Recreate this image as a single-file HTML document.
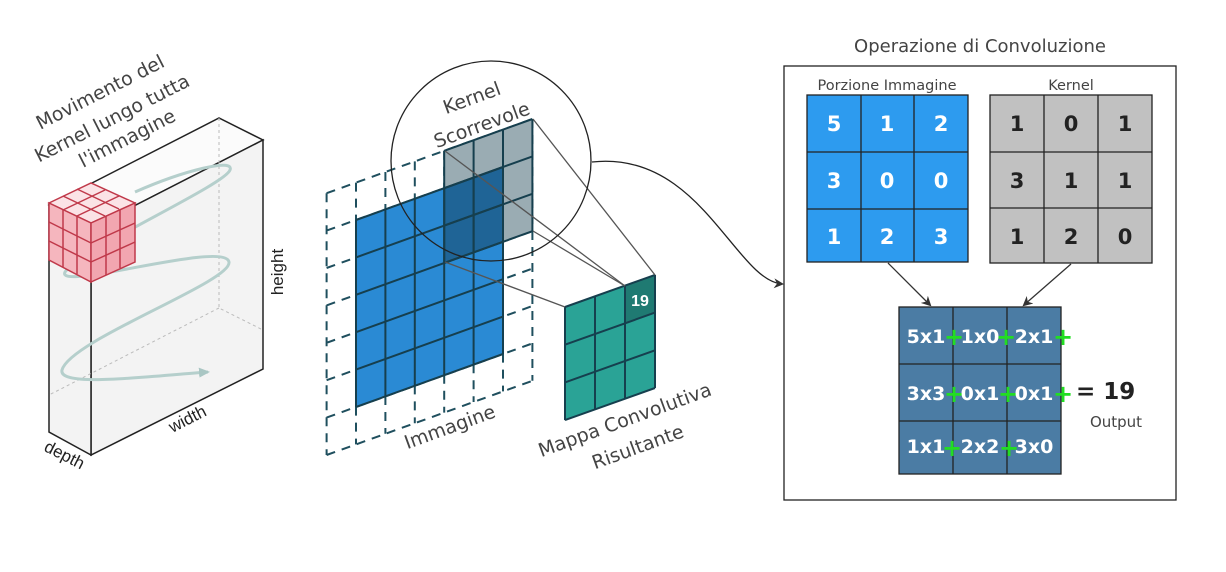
<!DOCTYPE html>
<html><head><meta charset="utf-8"><style>
html,body{margin:0;padding:0;background:#fff;}
svg{display:block;font-family:"Liberation Sans","DejaVu Sans",sans-serif;}
.t{font-family:"DejaVu Sans","Liberation Sans",sans-serif;fill:#444;}
</style></head><body>
<svg width="1226" height="572" viewBox="0 0 1226 572" xmlns="http://www.w3.org/2000/svg">
<defs>
<marker id="ah" markerWidth="10" markerHeight="10" refX="8" refY="5" orient="auto" markerUnits="userSpaceOnUse"><path d="M0,0 L10,5 L0,10 L3,5 z" fill="#333"/></marker>
<marker id="ah2" markerWidth="12" markerHeight="12" refX="9" refY="6" orient="auto" markerUnits="userSpaceOnUse"><path d="M0,1 L11,6 L0,11 z" fill="#a9c6c3"/></marker>
</defs>

<!-- Left 3D box -->
<polygon points="49,205 219,118 263,140 91,228" fill="#fbfbfb" stroke="#222" stroke-width="1.5"/>
<polygon points="91,228 263,140 263,369 91,455" fill="#f3f3f3" stroke="#222" stroke-width="1.5"/>
<polygon points="49,205 91,228 91,455 49,432" fill="#f3f3f3" stroke="#222" stroke-width="1.5"/>
<path d="M219,118 L219,308 L263,330 M219,308 L49,395" stroke="#bbb" stroke-width="1" stroke-dasharray="3,3" fill="none"/>
<path d="M135,192 C185,170 235,158 230,170 C225,185 80,250 65,272 C55,292 225,240 229,262 C232,282 70,340 62,370 C58,388 150,376 208,372" stroke="#b5cfcc" stroke-width="3" fill="none" marker-end="url(#ah2)"/>
<!-- kernel cube -->
<g stroke="#c0394a" stroke-width="1.5">
<polygon points="49,203 91,183 135,203 91,223" fill="#fbe3e6"/>
<polygon points="49,203 91,223 91,282 49,260" fill="#f5b6be"/>
<polygon points="91,223 135,203 135,262 91,282" fill="#f2a6b0"/>
<path d="M63,196 L105,216 M77,189 L119,209 M63,210 L105,190 M77,216 L119,196" fill="none"/>
<path d="M63,210 L63,267 M77,216 L77,274 M49,222 L91,243 M49,241 L91,262" fill="none"/>
<path d="M106,216 L106,275 M120,209 L120,268 M91,243 L135,223 M91,262 L135,242" fill="none"/>
</g>
<g class="t" font-size="19" text-anchor="middle">
<text transform="translate(103,98) rotate(-27)">Movimento del</text>
<text transform="translate(115,124) rotate(-27)">Kernel lungo tutta</text>
<text transform="translate(130,144) rotate(-27)">l'immagine</text>
</g>
<text transform="translate(283,272) rotate(-90)" text-anchor="middle" font-size="17" fill="#222">height</text>
<text transform="translate(190,424) rotate(-27)" text-anchor="middle" font-size="17" fill="#222">width</text>
<text transform="translate(62,460) rotate(27)" text-anchor="middle" font-size="17" fill="#222">depth</text>

<!-- middle: grids via matrix -->
<g transform="matrix(29.4,-10.6,0,37.4,356,220)">
  <path vector-effect="non-scaling-stroke" fill="none" stroke="#1f4f5e" stroke-width="2" stroke-dasharray="9,7" d="M-1,-1 V6 M0,-1 V6 M1,-1 V6 M2,-1 V6 M3,-1 V6 M4,-1 V6 M5,-1 V6 M6,-1 V6 M-1,-1 H6 M-1,0 H6 M-1,1 H6 M-1,2 H6 M-1,3 H6 M-1,4 H6 M-1,5 H6 M-1,6 H6"/>
  <rect x="0" y="0" width="5" height="5" fill="#2a8ad4"/>
  <rect x="3" y="-1" width="3" height="3" fill="#9aacb3"/>
  <rect x="3" y="0" width="2" height="2" fill="#1f6496"/>
  <path vector-effect="non-scaling-stroke" stroke="#163f4e" stroke-width="2" fill="none" d="M0,0 V5 M1,0 V5 M2,0 V5 M3,0 V5 M4,0 V5 M5,0 V5 M0,0 H5 M0,1 H5 M0,2 H5 M0,3 H5 M0,4 H5 M0,5 H5"/>
  <path vector-effect="non-scaling-stroke" stroke="#163f4e" stroke-width="2" fill="none" d="M3,-1 V2 M4,-1 V2 M5,-1 V2 M6,-1 V2 M3,-1 H6 M3,0 H6 M3,1 H6 M3,2 H6"/>
</g>
<g transform="matrix(30,-10.7,0,37.7,565,307)">
  <rect x="0" y="0" width="3" height="3" fill="#2aa396"/>
  <rect x="2" y="0" width="1" height="1" fill="#1f7a72"/>
  <path vector-effect="non-scaling-stroke" stroke="#163f4e" stroke-width="2" fill="none" d="M0,0 V3 M1,0 V3 M2,0 V3 M3,0 V3 M0,0 H3 M0,1 H3 M0,2 H3 M0,3 H3"/>
</g>
<text x="640" y="306" text-anchor="middle" font-size="16" font-weight="bold" fill="#fff">19</text>
<g stroke="#555" stroke-width="1.3" fill="none">
<line x1="533" y1="119" x2="655" y2="275"/>
<line x1="445" y1="151" x2="625" y2="286"/>
<line x1="533" y1="231" x2="625" y2="286"/>
<line x1="445" y1="262" x2="565" y2="307"/>
</g>
<circle cx="491" cy="161" r="100" fill="none" stroke="#222" stroke-width="1.3"/>
<path d="M592,162 C700,150 735,280 782,284" stroke="#222" stroke-width="1.3" fill="none" marker-end="url(#ah)"/>
<g class="t" font-size="19" text-anchor="middle">
<text transform="translate(474,104) rotate(-20)">Kernel</text>
<text transform="translate(484,131) rotate(-20)">Scorrevole</text>
<text transform="translate(452,433) rotate(-20)">Immagine</text>
<text transform="translate(627,426) rotate(-20)">Mappa Convolutiva</text>
<text transform="translate(640,453) rotate(-20)">Risultante</text>
</g>

<!-- right panel -->
<text x="980" y="52" text-anchor="middle" font-size="18" class="t" fill="#333">Operazione di Convoluzione</text>
<rect x="784" y="66" width="392" height="434" fill="none" stroke="#222" stroke-width="1.3"/>
<text x="887" y="90" text-anchor="middle" font-size="14.5" class="t">Porzione Immagine</text>
<text x="1071" y="90" text-anchor="middle" font-size="14.5" class="t">Kernel</text>
<g stroke="#222" stroke-width="1.3">
<rect x="807" y="95" width="161" height="167" fill="#2d9bef"/>
<path d="M861,95 V262 M914,95 V262 M807,152 H968 M807,209 H968"/>
<rect x="990" y="95" width="162" height="168" fill="#c1c1c1"/>
<path d="M1044,95 V263 M1098,95 V263 M990,152 H1152 M990,208 H1152"/>
<rect x="899" y="307" width="162" height="167" fill="#4b7ca4"/>
<path d="M953,307 V474 M1007,307 V474 M899,364 H1061 M899,421 H1061"/>
</g>
<g font-size="21" font-weight="bold" text-anchor="middle" fill="#fff" font-family="DejaVu Sans, sans-serif">
<text x="834" y="131">5</text><text x="887" y="131">1</text><text x="941" y="131">2</text>
<text x="834" y="188">3</text><text x="887" y="188">0</text><text x="941" y="188">0</text>
<text x="834" y="244">1</text><text x="887" y="244">2</text><text x="941" y="244">3</text>
</g>
<g font-size="21" font-weight="bold" text-anchor="middle" fill="#222" font-family="DejaVu Sans, sans-serif">
<text x="1017" y="131">1</text><text x="1071" y="131">0</text><text x="1125" y="131">1</text>
<text x="1017" y="188">3</text><text x="1071" y="188">1</text><text x="1125" y="188">1</text>
<text x="1017" y="244">1</text><text x="1071" y="244">2</text><text x="1125" y="244">0</text>
</g>
<line x1="888" y1="263" x2="930" y2="305" stroke="#333" stroke-width="1.3" marker-end="url(#ah)"/>
<line x1="1071" y1="264" x2="1024" y2="305" stroke="#333" stroke-width="1.3" marker-end="url(#ah)"/>
<g font-size="19" font-weight="bold" fill="#fff" font-family="DejaVu Sans, sans-serif" text-anchor="middle">
<text x="926" y="343">5x1</text><text x="980" y="343">1x0</text><text x="1034" y="343">2x1</text>
<text x="926" y="400">3x3</text><text x="980" y="400">0x1</text><text x="1034" y="400">0x1</text>
<text x="926" y="453">1x1</text><text x="980" y="453">2x2</text><text x="1034" y="453">3x0</text>
</g>
<g font-size="24" font-weight="bold" fill="#22dd22" font-family="DejaVu Sans, sans-serif" text-anchor="middle">
<text x="954" y="345">+</text><text x="1006" y="345">+</text><text x="1063" y="345">+</text>
<text x="954" y="402">+</text><text x="1008" y="402">+</text><text x="1063" y="402">+</text>
<text x="952" y="456">+</text><text x="1009" y="456">+</text>
</g>
<text x="1076" y="399" font-size="23" font-weight="bold" fill="#222" font-family="DejaVu Sans, sans-serif">= 19</text>
<text x="1116" y="427" text-anchor="middle" font-size="15" class="t">Output</text>
</svg>
</body></html>
